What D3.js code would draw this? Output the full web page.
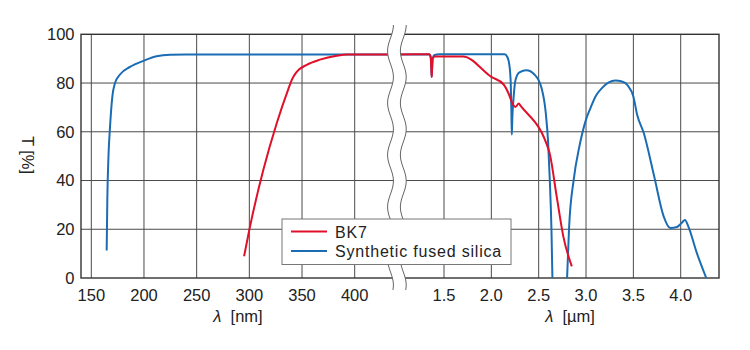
<!DOCTYPE html>
<html>
<head>
<meta charset="utf-8">
<script src="https://cdn.jsdelivr.net/npm/d3@7"></script>
<style>
  body { margin: 0; background: #fff; }
  svg { display: block; font-family: "Liberation Sans", Arial, Helvetica, sans-serif; }
</style>
</head>
<body>
<svg id="chart" width="750" height="350"></svg>
<script>
// ---- data ----
const yTicks = [0, 20, 40, 60, 80, 100];
const nmTicks = [150, 200, 250, 300, 350, 400];
const umTicks = [1.5, 2.0, 2.5, 3.0, 3.5, 4.0];
const seriesNames = ["BK7", "Synthetic fused silica"];

// UV / visible part [nm, T%]
const bk7Nm = [[295,8.9],[300,19.8],[313.3,44.4],[326,63.5],[337,77.5],[340.5,81.5],[345,84.6],[354.5,87.5],[367,89.6],[383,91.2],[392.5,91.7],[440,91.7]];
const silicaNm = [[164.6,11.3],[165.2,32],[166.3,50],[167.7,61.5],[170,74.5],[172.5,80],[177.2,83.5],[186.7,86.6],[200,89.2],[212,91],[225,91.6],[240,91.7],[440,91.7]];

// IR part [µm, T%]
const bk7Um = [[1.0,91.7],[1.345,91.8],[1.36,90.6],[1.366,86],[1.37,82.5],[1.374,86],[1.38,90],[1.40,90.9],[1.70,90.9],[2.0,82.5],[2.13,79.4],[2.18,75.9],[2.23,71.1],[2.255,70.2],[2.29,71.6],[2.31,70.6],[2.61,52],[2.69,33.5],[2.76,17.1],[2.85,4.8]];
const silicaUmA = [[1.0,91.7],[1.345,91.7],[1.36,90.5],[1.37,82.5],[1.38,90],[1.40,91.5],[1.45,91.8],[2.14,91.8],[2.17,90.6],[2.19,87.5],[2.205,80],[2.212,68],[2.216,58.8],[2.222,66],[2.235,74],[2.255,81.2],[2.297,84.4],[2.37,85.2],[2.455,83.5],[2.53,78],[2.575,67.7],[2.60,55.4],[2.617,40.4],[2.635,19.8],[2.645,0]];
const silicaUmB = [[2.80,0],[2.82,19.8],[2.87,40.4],[2.93,54],[3.0,65],[3.05,70],[3.10,74.5],[3.17,78],[3.24,80.3],[3.31,81],[3.38,80.6],[3.44,79],[3.50,74.5],[3.54,67],[3.61,59.5],[3.72,41.7],[3.82,25.3],[3.89,20.5],[3.96,20.9],[4.01,22.6],[4.045,23.8],[4.08,21.2],[4.17,10.3],[4.27,0]];

// ---- layout ----
const svg = d3.select("#chart");
const pTop = 34.3, pBottom = 278, pLeft = 81, pRight = 719;
const breakX = 396;
const red = "#e0102a", blue = "#1a6cb3";
const fs = 16.5;

const y = d3.scaleLinear().domain([0, 100]).range([pBottom, pTop]);
const xL = d3.scaleLinear().domain([150, 400]).range([91.3, 354.7]);
const xR = d3.scaleLinear().domain([1.5, 4.0]).range([444, 680.7]);

const defs = svg.append("defs");
defs.append("clipPath").attr("id", "clipL").append("rect")
  .attr("x", pLeft).attr("y", pTop - 5).attr("width", breakX - pLeft).attr("height", pBottom - pTop + 5);
defs.append("clipPath").attr("id", "clipR").append("rect")
  .attr("x", breakX).attr("y", pTop - 5).attr("width", pRight - breakX).attr("height", pBottom - pTop + 5);

// grid
const grid = svg.append("g").attr("stroke", "#4a4a4a").attr("stroke-width", 1);
grid.selectAll(".hy").data(yTicks.filter(d => d > 0 && d < 100)).join("line")
  .attr("x1", pLeft).attr("x2", pRight).attr("y1", d => y(d)).attr("y2", d => y(d));
grid.selectAll(".vl").data(nmTicks).join("line").attr("class", "vl")
  .attr("x1", d => xL(d)).attr("x2", d => xL(d)).attr("y1", pTop).attr("y2", pBottom);
grid.selectAll(".vr").data(umTicks).join("line").attr("class", "vr")
  .attr("x1", d => xR(d)).attr("x2", d => xR(d)).attr("y1", pTop).attr("y2", pBottom);

// frame
svg.append("rect").attr("x", pLeft).attr("y", pTop).attr("width", pRight - pLeft).attr("height", pBottom - pTop)
  .attr("fill", "none").attr("stroke", "#333").attr("stroke-width", 1.4);

// curves
const lineL = d3.line().x(d => xL(d[0])).y(d => y(d[1])).curve(d3.curveMonotoneX);
const lineR = d3.line().x(d => xR(d[0])).y(d => y(d[1])).curve(d3.curveMonotoneX);
const gL = svg.append("g").attr("clip-path", "url(#clipL)");
const gR = svg.append("g").attr("clip-path", "url(#clipR)");
gL.append("path").attr("d", lineL(silicaNm)).attr("fill", "none").attr("stroke", blue).attr("stroke-width", 2);
gL.append("path").attr("d", lineL(bk7Nm)).attr("fill", "none").attr("stroke", red).attr("stroke-width", 2);
gR.append("path").attr("d", lineR(silicaUmA)).attr("fill", "none").attr("stroke", blue).attr("stroke-width", 2);
gR.append("path").attr("d", lineR(silicaUmB)).attr("fill", "none").attr("stroke", blue).attr("stroke-width", 2);
gR.append("path").attr("d", lineR(bk7Um)).attr("fill", "none").attr("stroke", red).attr("stroke-width", 2);

// axis break (wavy band)
const wy0 = 25, wy1 = 290, period = 52, amp = 2.9, lx = 390.5, gap = 12.8;
const ys = d3.range(wy0, wy1 + 0.5, 1);
const wx = yy => lx + amp * Math.cos(2 * Math.PI * (yy - wy0) / period);
const leftPts = ys.map(yy => [wx(yy), yy]);
const rightPts = ys.map(yy => [wx(yy) + gap, yy]);
svg.append("path").attr("d", d3.line()(leftPts.concat(rightPts.slice().reverse())) + "Z")
  .attr("fill", "#fff").attr("stroke", "none");
svg.append("path").attr("d", d3.line()(leftPts)).attr("fill", "none").attr("stroke", "#666").attr("stroke-width", 1);
svg.append("path").attr("d", d3.line()(rightPts)).attr("fill", "none").attr("stroke", "#666").attr("stroke-width", 1);

// tick labels
const txt = svg.append("g").attr("fill", "#222").attr("font-size", fs);
txt.selectAll(".yl").data(yTicks).join("text")
  .attr("x", 74.5).attr("y", d => y(d)).attr("dy", "0.36em").attr("text-anchor", "end").text(d => d);
txt.selectAll(".xl").data(nmTicks).join("text").attr("class", "xl")
  .attr("x", d => xL(d)).attr("y", 301).attr("text-anchor", "middle").text(d => d);
txt.selectAll(".xr").data(umTicks).join("text").attr("class", "xr")
  .attr("x", d => xR(d)).attr("y", 301).attr("text-anchor", "middle").text(d => d3.format(".1f")(d));

// axis titles
function lambdaTitle(x, unit) {
  const t = svg.append("text").attr("x", x).attr("y", 322).attr("text-anchor", "middle")
    .attr("font-size", fs).attr("fill", "#222").attr("xml:space", "preserve");
  t.append("tspan").attr("font-style", "italic").text("λ");
  t.append("tspan").text("  [" + unit + "]");
}
lambdaTitle(238, "nm");
lambdaTitle(570, "µm");
svg.append("text").attr("transform", "translate(22,155) rotate(90)").attr("text-anchor", "middle")
  .attr("font-size", fs).attr("fill", "#222").text("T [%]");

// legend
const lg = svg.append("g");
lg.append("rect").attr("x", 282).attr("y", 219).attr("width", 229).attr("height", 45.5)
  .attr("fill", "#fff").attr("stroke", "#777").attr("stroke-width", 1);
[red, blue].forEach((c, i) => {
  lg.append("line").attr("x1", 291).attr("x2", 327).attr("y1", 231.5 + i * 19.5).attr("y2", 231.5 + i * 19.5)
    .attr("stroke", c).attr("stroke-width", 2);
  lg.append("text").attr("x", 335).attr("y", 237.5 + i * 19.5).attr("font-size", 16).attr("fill", "#222")
    .attr("letter-spacing", 0.8).text(seriesNames[i]);
});
</script>
</body>
</html>
